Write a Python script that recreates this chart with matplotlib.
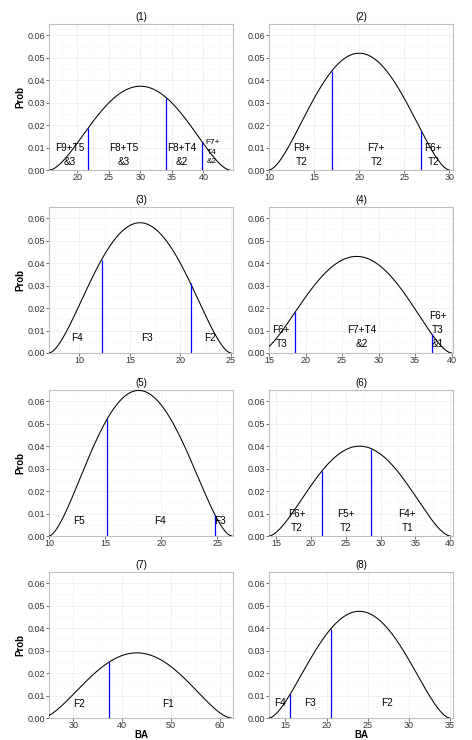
import numpy as np
import matplotlib
matplotlib.use('Agg')
import matplotlib.pyplot as plt

plt.rcParams['font.family'] = ['Liberation Sans', 'DejaVu Sans']

# panel data
titles = ['(1)', '(2)', '(3)', '(4)', '(5)', '(6)', '(7)', '(8)']
x_lims = [(15.5, 44.7), (10, 30.4), (7, 25.2), (15, 40.2),
          (10, 26.4), (14.0, 40.4), (25, 62.7), (13, 35.4)]
x_ticks = [[20, 25, 30, 35, 40], [10, 15, 20, 25, 30], [10, 15, 20, 25],
           [15, 20, 25, 30, 35, 40], [10, 15, 20, 25], [15, 20, 25, 30, 35, 40],
           [30, 40, 50, 60], [15, 20, 25, 30, 35]]

# density curve: support ends, mode and peak height of each panel
curve_lo = [15.6, 10, 7, 13.5, 10, 14, 23.5, 13]
curve_hi = [44.2, 30, 25, 40, 26.3, 40, 62.3, 35]
curve_mode = [30, 20, 16, 27, 18, 27, 43, 24]
curve_peak = [0.0373, 0.052, 0.058, 0.043, 0.0648, 0.040, 0.029, 0.0475]
shape = 1.7

# class boundaries (blue lines)
cuts = [[21.7, 34.1, 39.8], [17.0, 26.9], [12.2, 21.0], [18.6, 37.3],
        [15.2, 24.8], [21.6, 28.7], [37.3], [15.6, 20.5]]

# class labels: x, y, text, font size
labels = [
    [(18.8, 0.0068, 'F9+T5\n&3', 7.2), (27.3, 0.0068, 'F8+T5\n&3', 7.2),
     (36.6, 0.0068, 'F8+T4\n&2', 7.2), (41.4, 0.0079, 'F7+\nT4\n&2', 6)],
    [(13.6, 0.0068, 'F8+\nT2', 7.2), (21.9, 0.0068, 'F7+\nT2', 7.2),
     (28.2, 0.0068, 'F6+\nT2', 7.2)],
    [(9.8, 0.0067, 'F4', 7.2), (16.7, 0.0067, 'F3', 7.2), (22.9, 0.0067, 'F2', 7.2)],
    [(16.7, 0.0072, 'F6+\nT3', 7.2), (27.7, 0.0072, 'F7+T4\n&2', 7.2),
     (38.1, 0.0101, 'F6+\nT3\n&1', 7.2)],
    [(12.65, 0.0067, 'F5', 7.2), (19.9, 0.0067, 'F4', 7.2), (25.2, 0.0067, 'F3', 7.2)],
    [(18.0, 0.0068, 'F6+\nT2', 7.2), (25.0, 0.0068, 'F5+\nT2', 7.2),
     (33.85, 0.0068, 'F4+\nT1', 7.2)],
    [(31.2, 0.0064, 'F2', 7.2), (49.3, 0.0064, 'F1', 7.2)],
    [(14.3, 0.0066, 'F4', 7.2), (18.0, 0.0066, 'F3', 7.2), (27.4, 0.0066, 'F2', 7.2)],
]

y_ticks = [0.00, 0.01, 0.02, 0.03, 0.04, 0.05, 0.06]


def density(x, lo, hi, mode, peak):
    t = np.clip((x - lo) / (hi - lo), 0, 1)
    m = (mode - lo) / (hi - lo)
    p = 2 * shape * m
    q = 2 * shape * (1 - m)
    return peak * (t / m) ** p * ((1 - t) / (1 - m)) ** q


W, H = 472, 740
fig = plt.figure(figsize=(W / 100, H / 100), dpi=100)

col_left = [49, 269]
row_top = [24, 207, 390, 572]
pw, ph = 184, 146

for i in range(8):
    r, c = divmod(i, 2)
    ax = fig.add_axes([col_left[c] / W, (H - row_top[r] - ph) / H, pw / W, ph / H])

    xs = np.linspace(curve_lo[i], curve_hi[i], 300)
    ax.plot(xs, density(xs, curve_lo[i], curve_hi[i], curve_mode[i], curve_peak[i]),
            color='black', lw=0.75, zorder=3)
    for cx in cuts[i]:
        top = density(cx, curve_lo[i], curve_hi[i], curve_mode[i], curve_peak[i])
        ax.vlines(cx, 0, top, color='#0000FF', lw=0.9, zorder=3)
    for lx, ly, txt, fs in labels[i]:
        ax.text(lx, ly, txt, ha='center', va='center', fontsize=fs,
                linespacing=1.5, zorder=4)

    ax.set_xticks(x_ticks[i])
    ax.set_yticks(y_ticks)
    ax.set_yticklabels(['%.2f' % v for v in y_ticks])
    step = x_ticks[i][1] - x_ticks[i][0]
    ax.set_xticks([v + step / 2 for v in [x_ticks[i][0] - step] + x_ticks[i]], minor=True)
    ax.set_yticks([v + 0.005 for v in y_ticks], minor=True)
    ax.set_xlim(*x_lims[i])
    ax.set_ylim(0, 0.065)
    ax.grid(which='major', color='#EBEBEB', lw=0.5)
    ax.grid(which='minor', color='#F5F5F5', lw=0.4)
    ax.set_axisbelow(True)
    ax.tick_params(which='minor', length=0)
    ax.tick_params(which='major', length=2, width=0.5, color='#333333',
                   labelsize=6.5, labelcolor='#333333')
    ax.tick_params(axis='x', pad=0.5)
    ax.tick_params(axis='y', pad=1)
    for s in ax.spines.values():
        s.set_color('#BFBFBF')
        s.set_linewidth(0.8)
    ax.set_title(titles[i], fontsize=7, pad=3)
    if c == 0:
        ax.set_ylabel('Prob', fontsize=7, fontweight='bold', labelpad=1)
    if r == 3:
        ax.set_xlabel('BA', fontsize=7, fontweight='bold', labelpad=-0.5)

fig.savefig('out.png', dpi=100)
